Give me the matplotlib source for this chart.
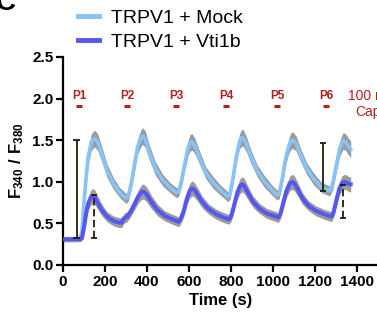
import numpy as np
import matplotlib
matplotlib.use('Agg')
import matplotlib.pyplot as plt

plt.rcParams['font.family'] = ['Liberation Sans', 'DejaVu Sans']
plt.rcParams['mathtext.fontset'] = 'custom'
plt.rcParams['mathtext.rm'] = 'Liberation Sans'
plt.rcParams['mathtext.bf'] = 'Liberation Sans:bold'

# --- data ---
t_mock = [0, 20, 40, 60, 80, 90, 100, 110, 120, 135, 150, 165, 185, 210, 240, 270, 300,
          310, 325, 340, 355, 370, 380, 392, 410, 440, 475, 510, 540,
          550, 565, 580, 595, 605, 615, 630, 650, 680, 715, 750, 785,
          795, 810, 825, 840, 850, 860, 875, 895, 925, 960, 995, 1020,
          1030, 1045, 1060, 1075, 1085, 1095, 1110, 1130, 1160, 1195, 1232, 1270,
          1285, 1300, 1318, 1333, 1345, 1358, 1370]
mock_mean = [0.31, 0.31, 0.31, 0.31, 0.32, 0.40, 0.75, 1.05, 1.30, 1.48, 1.52, 1.48, 1.33, 1.13, 0.98, 0.87, 0.80,
             0.82, 0.98, 1.20, 1.42, 1.52, 1.55, 1.51, 1.36, 1.16, 1.02, 0.93, 0.87,
             0.88, 1.02, 1.22, 1.40, 1.47, 1.48, 1.42, 1.29, 1.11, 0.99, 0.90, 0.82,
             0.85, 1.05, 1.30, 1.48, 1.53, 1.52, 1.44, 1.30, 1.13, 1.00, 0.90, 0.84,
             0.86, 1.05, 1.28, 1.43, 1.49, 1.50, 1.46, 1.33, 1.16, 1.03, 0.93, 0.89,
             0.98, 1.18, 1.40, 1.49, 1.48, 1.43, 1.39]
mock_sem = [0.03, 0.03, 0.03, 0.03, 0.03, 0.04, 0.06, 0.08, 0.09, 0.10, 0.10, 0.10, 0.09, 0.08, 0.07, 0.06, 0.06,
            0.06, 0.07, 0.08, 0.09, 0.10, 0.10, 0.10, 0.09, 0.08, 0.07, 0.06, 0.06,
            0.06, 0.07, 0.08, 0.09, 0.10, 0.10, 0.09, 0.08, 0.07, 0.07, 0.06, 0.06,
            0.06, 0.07, 0.08, 0.09, 0.10, 0.10, 0.09, 0.08, 0.07, 0.07, 0.06, 0.06,
            0.06, 0.07, 0.08, 0.09, 0.10, 0.10, 0.09, 0.08, 0.07, 0.07, 0.06, 0.06,
            0.07, 0.08, 0.09, 0.10, 0.10, 0.10, 0.10]

t_vti = [0, 20, 40, 60, 80, 90, 100, 110, 120, 132, 142, 152, 165, 185, 210, 240, 265, 280, 290, 305,
         320, 340, 360, 375, 385, 398, 420, 450, 485, 520, 550,
         560, 575, 590, 603, 613, 623, 640, 665, 695, 730, 765, 790,
         800, 815, 830, 843, 853, 863, 880, 905, 935, 970, 1005, 1025,
         1035, 1050, 1065, 1080, 1092, 1102, 1118, 1140, 1170, 1205, 1243, 1278,
         1288, 1302, 1316, 1328, 1340, 1352, 1362, 1370]
vti_mean = [0.31, 0.31, 0.31, 0.31, 0.31, 0.32, 0.45, 0.62, 0.74, 0.81, 0.83, 0.81, 0.75, 0.66, 0.58, 0.53, 0.51, 0.51, 0.56, 0.58,
            0.63, 0.73, 0.83, 0.88, 0.88, 0.85, 0.76, 0.66, 0.59, 0.55, 0.52,
            0.55, 0.65, 0.80, 0.89, 0.92, 0.91, 0.85, 0.75, 0.67, 0.61, 0.57, 0.55,
            0.58, 0.72, 0.87, 0.95, 0.97, 0.95, 0.87, 0.76, 0.68, 0.62, 0.59, 0.57,
            0.61, 0.76, 0.90, 0.98, 1.00, 0.98, 0.91, 0.80, 0.71, 0.65, 0.61, 0.58,
            0.63, 0.78, 0.92, 0.98, 1.00, 0.99, 0.97, 0.97]
vti_sem = [0.03, 0.03, 0.03, 0.03, 0.03, 0.03, 0.05, 0.07, 0.08, 0.09, 0.09, 0.09, 0.08, 0.07, 0.06, 0.06, 0.06, 0.06, 0.06, 0.06,
           0.06, 0.07, 0.08, 0.09, 0.09, 0.09, 0.08, 0.07, 0.06, 0.06, 0.06,
           0.06, 0.07, 0.08, 0.09, 0.09, 0.09, 0.08, 0.07, 0.06, 0.06, 0.06, 0.06,
           0.06, 0.07, 0.08, 0.09, 0.09, 0.09, 0.08, 0.07, 0.06, 0.06, 0.06, 0.06,
           0.06, 0.07, 0.08, 0.09, 0.09, 0.09, 0.08, 0.07, 0.06, 0.06, 0.06, 0.06,
           0.06, 0.07, 0.08, 0.09, 0.09, 0.09, 0.09, 0.09]

# amplitude bars (time, low, high)
bar_t = [65, 148, 1238, 1333]
bar_lo = [0.33, 0.33, 0.89, 0.57]
bar_hi = [1.50, 0.84, 1.47, 0.96]
bar_dashed = [False, True, False, True]

pulse_labels = ['P1', 'P2', 'P3', 'P4', 'P5', 'P6']
pulse_t = [76, 305, 538, 776, 1019, 1252]

series_labels = ['TRPV1 + Mock', 'TRPV1 + Vti1b']

# --- figure ---
fig = plt.figure(figsize=(3.77, 3.2), dpi=100)
ax = fig.add_axes([63 / 377, 55 / 320, 315 / 377, 208 / 320])

band = '#9c9c9c'
c_mock = '#86c3f7'
c_vti = '#5656f2'
dark = '#1e1e10'
red = '#b0201c'

tm = np.array(t_mock); mm = np.array(mock_mean); ms = np.array(mock_sem)
tv = np.array(t_vti); vm = np.array(vti_mean); vs = np.array(vti_sem)

ax.fill_between(tm, mm - ms, mm + ms, color=band, lw=0, zorder=1)
ax.fill_between(tv, vm - vs, vm + vs, color=band, lw=0, zorder=1)
l1, = ax.plot(tm, mm, color=c_mock, lw=2.6, zorder=2, solid_joinstyle='round')
l2, = ax.plot(tv, vm, color=c_vti, lw=2.9, zorder=3, solid_joinstyle='round')

for x, lo, hi, dsh in zip(bar_t, bar_lo, bar_hi, bar_dashed):
    ls = (0, (4, 2)) if dsh else '-'
    ax.vlines(x, lo, hi, colors=dark, lw=1.3, linestyles=[ls], zorder=4)
    ax.hlines([lo, hi], x - 16, x + 16, colors=dark, lw=1.3, zorder=4)

for lab, x in zip(pulse_labels, pulse_t):
    ax.text(x, 2.03, lab, color=red, fontsize=8.5, fontweight='bold', ha='center', va='center')
    ax.hlines(1.91, x - 14, x + 14, colors=red, lw=2.2)
ax.text(1357, 2.03, '100 nM', color=red, fontsize=10, ha='left', va='center')
ax.text(1390, 1.84, 'Capsaicin', color=red, fontsize=10, ha='left', va='center')

ax.set_xlim(0, 1500)
ax.set_ylim(0, 2.5)
ax.set_xticks(np.arange(0, 1401, 200))
ax.set_yticks(np.arange(0, 2.51, 0.5))
ax.set_yticklabels(['%.1f' % v for v in np.arange(0, 2.51, 0.5)])
for s in ['top', 'right']:
    ax.spines[s].set_visible(False)
for s in ['left', 'bottom']:
    ax.spines[s].set_linewidth(1.6)
ax.tick_params(width=1.6, length=5, labelsize=11, pad=2)
for lab in ax.get_xticklabels() + ax.get_yticklabels():
    lab.set_fontweight('bold')
ax.set_xlabel('Time (s)', fontsize=12, fontweight='bold', labelpad=3)
ax.set_ylabel(r'$\mathbf{F_{340}\ /\ F_{380}}$', fontsize=12, labelpad=4)

fig.legend([l1, l2], series_labels, loc='upper left', bbox_to_anchor=(78 / 377, 1 - 9 / 320),
           frameon=False, fontsize=14, handlelength=1.1, handletextpad=0.6,
           labelspacing=0.35, borderpad=0, borderaxespad=0)
for h in fig.legends[0].get_lines():
    h.set_linewidth(3.5)

fig.text(-4 / 377, 1 - 10 / 320, 'C', fontsize=20, fontweight='bold', va='baseline', ha='left')

fig.savefig('out.png', dpi=100)
